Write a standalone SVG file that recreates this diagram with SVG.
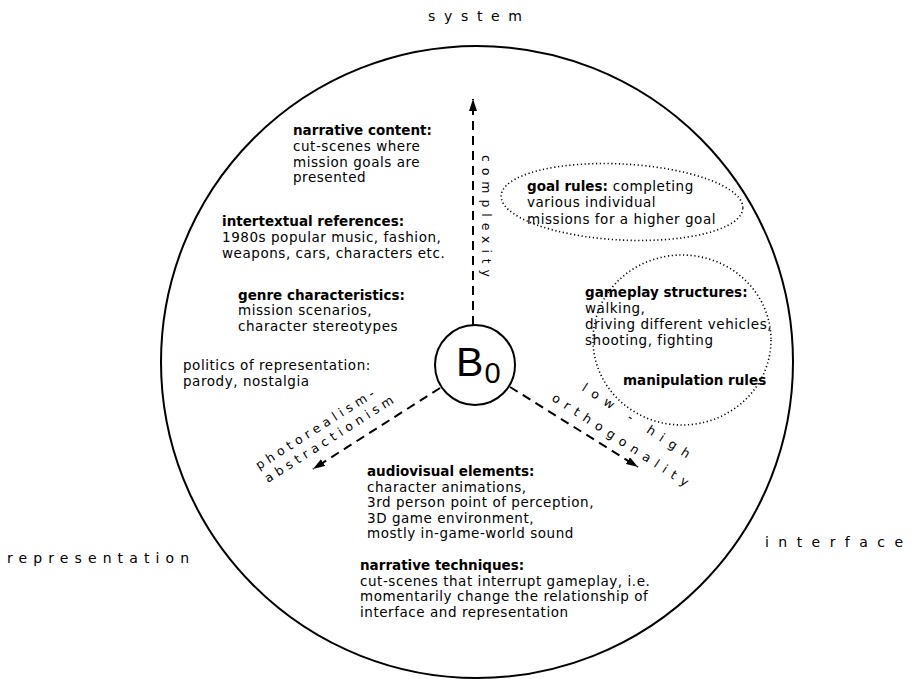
<svg xmlns="http://www.w3.org/2000/svg" width="912" height="679" viewBox="0 0 912 679">
<defs>
<style>
.t{font-family:"DejaVu Sans",Verdana,sans-serif;font-size:13.5px;letter-spacing:0.55px;fill:#000}
.b{font-weight:bold;letter-spacing:0px}
.lbl{font-family:"DejaVu Sans",Verdana,sans-serif;font-size:14px;fill:#000}
.ax{font-family:"DejaVu Sans",Verdana,sans-serif;font-size:12.5px;fill:#000}
.dash{stroke:#000;stroke-width:2;stroke-dasharray:9 6;fill:none}
.dot{stroke:#000;stroke-width:1.6;stroke-dasharray:1.2 2.6;fill:none}
.solid{stroke:#000;stroke-width:2;fill:none}
.bz{font-family:"Liberation Sans",Arial,sans-serif;fill:#000}
</style>
<marker id="ah" viewBox="0 0 12 8" refX="12" refY="4" markerWidth="12" markerHeight="8" markerUnits="userSpaceOnUse" orient="auto">
<path d="M0,0 L12,4 L0,8 z" fill="#000"/>
</marker>
</defs>
<rect width="912" height="679" fill="#fff"/>

<g id="outer-circle"><circle class="solid" cx="477" cy="362" r="316"/></g>

<g id="labels">
<text class="lbl" x="428" y="21" textLength="94" lengthAdjust="spacing">system</text>
<text class="lbl" x="7" y="563" textLength="182" lengthAdjust="spacing">representation</text>
<text class="lbl" x="765" y="547" textLength="138" lengthAdjust="spacing">interface</text>
</g>

<g id="connectors">
<line class="dash" x1="473" y1="325" x2="473" y2="99" marker-end="url(#ah)"/>
<line class="dash" x1="440" y1="388" x2="313" y2="469" marker-end="url(#ah)"/>
<line class="dash" x1="510" y1="387" x2="638" y2="467" marker-end="url(#ah)"/>
</g>

<g id="axis-labels">
<text class="ax" transform="translate(482,155) rotate(90)" textLength="122" lengthAdjust="spacing">complexity</text>
<text class="ax" transform="translate(259,470) rotate(-32.5)" textLength="138" lengthAdjust="spacing">photorealism-</text>
<text class="ax" transform="translate(268,483) rotate(-32.5)" textLength="150" lengthAdjust="spacing">abstractionism</text>
<text class="ax" transform="translate(581,390) rotate(33)" textLength="126" lengthAdjust="spacing">low - high</text>
<text class="ax" transform="translate(551,400) rotate(33)" textLength="160" lengthAdjust="spacing">orthogonality</text>
</g>

<g id="B0">
<circle class="solid" cx="475" cy="365" r="40"/>
<text class="bz" x="456" y="376" font-size="41">B</text>
<text class="bz" x="484.5" y="383" font-size="29">0</text>
</g>

<g id="narrative-content">
<text class="t" x="293" y="135"><tspan class="b">narrative content:</tspan></text>
<text class="t" x="293" y="151">cut-scenes where</text>
<text class="t" x="293" y="167">mission goals are</text>
<text class="t" x="293" y="182">presented</text>
</g>

<g id="intertextual-references">
<text class="t" x="222" y="226"><tspan class="b">intertextual references:</tspan></text>
<text class="t" x="222" y="242">1980s popular music, fashion,</text>
<text class="t" x="222" y="258">weapons, cars, characters etc.</text>
</g>

<g id="genre-characteristics">
<text class="t" x="238" y="300"><tspan class="b">genre characteristics:</tspan></text>
<text class="t" x="238" y="315">mission scenarios,</text>
<text class="t" x="238" y="331">character stereotypes</text>
</g>

<g id="politics-of-representation">
<text class="t" x="183" y="370">politics of representation:</text>
<text class="t" x="183" y="386">parody, nostalgia</text>
</g>

<g id="goal-rules">
<ellipse class="dot" cx="622" cy="202" rx="121" ry="38" transform="rotate(3 622 202)"/>
<text class="t" x="527" y="191"><tspan class="b">goal rules:</tspan> completing</text>
<text class="t" x="527" y="207">various individual</text>
<text class="t" x="527" y="224">missions for a higher goal</text>
</g>

<g id="manipulation-rules">
<ellipse class="dot" cx="682" cy="340" rx="89" ry="85"/>
<text class="t" x="585" y="297"><tspan class="b">gameplay structures:</tspan></text>
<text class="t" x="585" y="313">walking,</text>
<text class="t" x="585" y="329">driving different vehicles,</text>
<text class="t" x="585" y="345">shooting, fighting</text>
<text class="t" x="623" y="385"><tspan class="b">manipulation rules</tspan></text>
</g>

<g id="audiovisual-elements">
<text class="t" x="367" y="476"><tspan class="b">audiovisual elements:</tspan></text>
<text class="t" x="367" y="492">character animations,</text>
<text class="t" x="367" y="507">3rd person point of perception,</text>
<text class="t" x="367" y="523">3D game environment,</text>
<text class="t" x="367" y="538">mostly in-game-world sound</text>
</g>

<g id="narrative-techniques">
<text class="t" x="360" y="570"><tspan class="b">narrative techniques:</tspan></text>
<text class="t" x="360" y="586">cut-scenes that interrupt gameplay, i.e.</text>
<text class="t" x="360" y="601">momentarily change the relationship of</text>
<text class="t" x="360" y="617">interface and representation</text>
</g>
</svg>
